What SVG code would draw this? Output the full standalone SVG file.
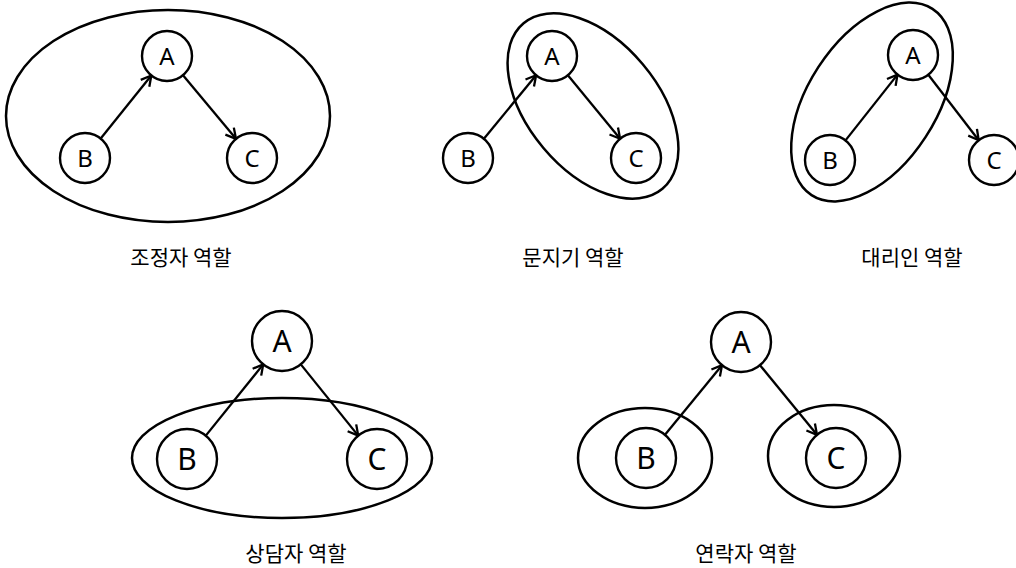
<svg xmlns="http://www.w3.org/2000/svg" width="1016" height="568" viewBox="0 0 1016 568">
<defs>
<marker id="arr" markerUnits="userSpaceOnUse" markerWidth="14" markerHeight="14" viewBox="0 0 14 14" refX="12" refY="7" orient="auto">
<path d="M2,1.5 L12,7 L2,12.5" fill="none" stroke="#000" stroke-width="2.3"/>
</marker>
</defs>
<style>
.n{fill:#fff;stroke:#000;stroke-width:2.4}
.g{fill:none;stroke:#000;stroke-width:2.5}
.e{fill:none;stroke:#000;stroke-width:2.3;marker-end:url(#arr)}
.t{font-family:"Noto Sans","Liberation Sans",sans-serif;fill:#000;text-anchor:middle}
.s{font-size:24px}
.b{font-size:30px}
.lab{font-family:"Noto Sans CJK KR",sans-serif;font-size:21px;fill:#000;text-anchor:middle}
</style>
<rect width="1016" height="568" fill="#fff"/>

<g id="groups">
<ellipse class="g" cx="168" cy="116" rx="162" ry="106"/>
<ellipse class="g" cx="593" cy="106" rx="108" ry="65" transform="rotate(50 593 106)"/>
<ellipse class="g" cx="872" cy="102" rx="111" ry="64" transform="rotate(-57 872 102)"/>
<ellipse class="g" cx="282" cy="458" rx="150" ry="60"/>
<ellipse class="g" cx="645" cy="458" rx="67" ry="50"/>
<ellipse class="g" cx="834" cy="456" rx="66" ry="51"/>
</g>

<g id="connectors">
<line class="e" x1="100.7" y1="138.5" x2="151.3" y2="75.5"/>
<line class="e" x1="183" y1="75.2" x2="236" y2="138.8"/>
<line class="e" x1="483.9" y1="138.7" x2="536.1" y2="75.3"/>
<line class="e" x1="567.9" y1="75.3" x2="620.1" y2="138.7"/>
<line class="e" x1="845.5" y1="140.4" x2="897.5" y2="74.6"/>
<line class="e" x1="928.3" y1="74.8" x2="978.7" y2="140.2"/>
<line class="e" x1="205.8" y1="435.6" x2="263.2" y2="364.4"/>
<line class="e" x1="300.8" y1="364.4" x2="358.2" y2="435.6"/>
<line class="e" x1="665" y1="434.8" x2="722" y2="365.2"/>
<line class="e" x1="760" y1="365.2" x2="817" y2="434.8"/>
</g>

<g id="p1A"><circle class="n" cx="167" cy="56" r="25"/><text class="t s" x="167" y="64.5">A</text></g>
<g id="p1B"><circle class="n" cx="85" cy="158" r="25"/><text class="t s" x="85" y="166.5">B</text></g>
<g id="p1C"><circle class="n" cx="252" cy="158" r="25"/><text class="t s" x="252" y="166.5">C</text></g>

<g id="p2A"><circle class="n" cx="552" cy="56" r="25"/><text class="t s" x="552" y="64.5">A</text></g>
<g id="p2B"><circle class="n" cx="468" cy="158" r="25"/><text class="t s" x="468" y="166.5">B</text></g>
<g id="p2C"><circle class="n" cx="636" cy="158" r="25"/><text class="t s" x="636" y="166.5">C</text></g>

<g id="p3A"><circle class="n" cx="913" cy="55" r="25"/><text class="t s" x="913" y="63.5">A</text></g>
<g id="p3B"><circle class="n" cx="830" cy="160" r="25"/><text class="t s" x="830" y="168.5">B</text></g>
<g id="p3C"><circle class="n" cx="994" cy="160" r="25"/><text class="t s" x="994" y="168.5">C</text></g>

<g id="p4A"><circle class="n" cx="282" cy="341" r="30"/><text class="t b" x="282" y="351.7">A</text></g>
<g id="p4B"><circle class="n" cx="187" cy="459" r="30"/><text class="t b" x="187" y="469.7">B</text></g>
<g id="p4C"><circle class="n" cx="377" cy="459" r="30"/><text class="t b" x="377" y="469.7">C</text></g>

<g id="p5A"><circle class="n" cx="741" cy="342" r="30"/><text class="t b" x="741" y="352.7">A</text></g>
<g id="p5B"><circle class="n" cx="646" cy="458" r="30"/><text class="t b" x="646" y="468.7">B</text></g>
<g id="p5C"><circle class="n" cx="836" cy="458" r="30"/><text class="t b" x="836" y="468.7">C</text></g>

<g id="labels">
<text class="lab" x="181" y="265">조정자 역할</text>
<text class="lab" x="573" y="265">문지기 역할</text>
<text class="lab" x="912" y="265">대리인 역할</text>
<text class="lab" x="296" y="561">상담자 역할</text>
<text class="lab" x="746" y="561">연락자 역할</text>
</g>
</svg>
